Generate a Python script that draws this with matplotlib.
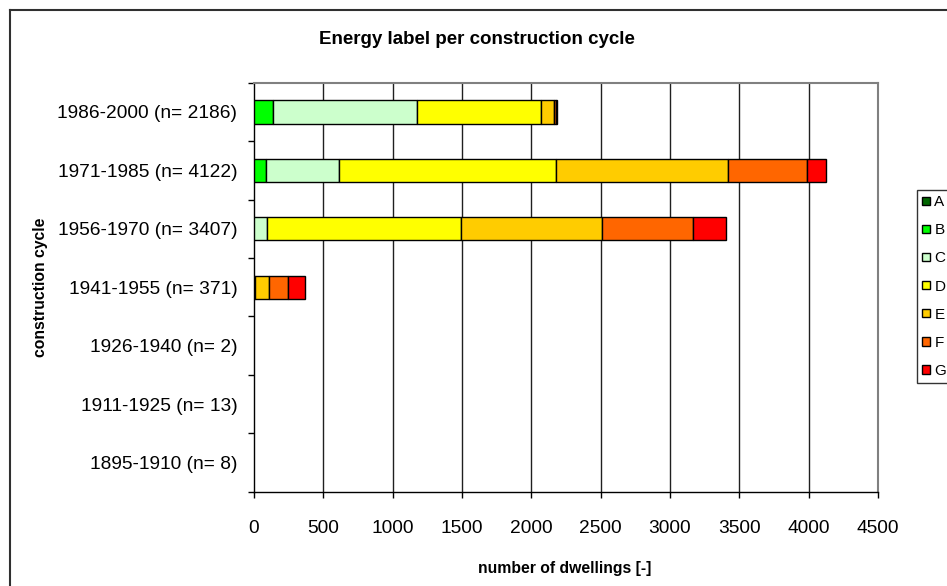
import matplotlib
matplotlib.use("Agg")
import matplotlib.pyplot as plt
from matplotlib.patches import Rectangle
from matplotlib.lines import Line2D
import numpy as np

plt.rcParams['font.family'] = ['Liberation Sans', 'DejaVu Sans']

# Construction cycles, oldest first (drawn bottom to top)
cycles = ["1895-1910", "1911-1925", "1926-1940", "1941-1955",
          "1956-1970", "1971-1985", "1986-2000"]
totals = [8, 13, 2, 371, 3407, 4122, 2186]

# Number of dwellings per energy label
label_names = ["A", "B", "C", "D", "E", "F", "G"]
label_a = [0, 0, 0, 0, 0, 0, 0]
label_b = [0, 0, 0, 0, 0, 87, 135]
label_c = [0, 0, 0, 0, 96, 524, 1038]
label_d = [0, 0, 0, 4, 1395, 1567, 897]
label_e = [0, 0, 0, 104, 1016, 1238, 96]
label_f = [0, 0, 0, 139, 657, 572, 12]
label_g = [0, 0, 0, 124, 243, 134, 8]
label_colors = ["#006600", "#00FF00", "#CCFFCC", "#FFFF00",
                "#FFCC00", "#FF6600", "#FF0000"]

series = [label_a, label_b, label_c, label_d, label_e, label_f, label_g]

W, H = 947, 586
fig = plt.figure(figsize=(W / 100, H / 100), dpi=100)
fig.patch.set_facecolor("white")

# chart-area border (left and top edges visible)
fig.add_artist(Line2D([10 / W, 10 / W], [0, 1 - 10 / H], color="#303030",
                      lw=1.5, transform=fig.transFigure))
fig.add_artist(Line2D([10 / W, 1], [1 - 10 / H, 1 - 10 / H], color="#303030",
                      lw=1.5, transform=fig.transFigure))

left, right, top, bottom = 254, 878, 82.7, 491.7
ax = fig.add_axes([left / W, 1 - bottom / H, (right - left) / W, (bottom - top) / H])

y = np.arange(len(cycles))
cum = np.zeros(len(cycles))
handles = []
for name, vals, col in zip(label_names, series, label_colors):
    vals = np.array(vals, dtype=float)
    nz = vals > 0
    if nz.any():
        ax.barh(y[nz], vals[nz], left=cum[nz], height=0.4, color=col,
                edgecolor="black", linewidth=1.0, zorder=3)
    cum += vals
    handles.append(Rectangle((0, 0), 1, 1, facecolor=col, edgecolor="black", linewidth=1.0))

ax.set_xlim(0, 4500)
ax.set_ylim(-0.5, len(cycles) - 0.5)
ax.set_xticks(np.arange(0, 4501, 500))
ax.set_xticklabels([str(v) for v in range(0, 4501, 500)])
ax.set_yticks(y)
ax.set_yticklabels([f"{c} (n= {n})" for c, n in zip(cycles, totals)])
ax.set_yticks(np.arange(-0.5, len(cycles), 1.0), minor=True)

ax.tick_params(axis="y", which="major", length=0, pad=12, labelsize=13.8)
ax.tick_params(axis="y", which="minor", length=4.5, width=1, direction="out", color="black")
ax.tick_params(axis="x", which="major", length=4.5, width=1, direction="out",
               pad=16, labelsize=13.8, color="black")

for xv in range(500, 4500, 500):
    ax.axvline(xv, color="#202020", lw=1.0, zorder=1)

for s in ("top", "right"):
    ax.spines[s].set_color("#808080")
    ax.spines[s].set_linewidth(1.5)
for s in ("left", "bottom"):
    ax.spines[s].set_color("black")
    ax.spines[s].set_linewidth(1.0)

fig.text(477 / W, 1 - 40 / H, "Energy label per construction cycle",
         ha="center", va="center", fontsize=13.5, fontweight="bold")
fig.text(565 / W, 1 - 568 / H, "number of dwellings [-]",
         ha="center", va="center", fontsize=11.3, fontweight="bold")
fig.text(40 / W, 1 - 287 / H, "construction cycle", rotation=90,
         ha="center", va="center", fontsize=11.3, fontweight="bold")

leg = fig.legend(handles, label_names, loc="upper left",
                 bbox_to_anchor=(916.7 / W, 1 - 190 / H), bbox_transform=fig.transFigure,
                 borderaxespad=0, fontsize=11, handlelength=0.5, handleheight=0.5,
                 handletextpad=0.3, labelspacing=0.92, borderpad=0.35,
                 fancybox=False, frameon=True)
leg.get_frame().set_edgecolor("black")
leg.get_frame().set_linewidth(1.0)

fig.savefig("out.png", dpi=100)
